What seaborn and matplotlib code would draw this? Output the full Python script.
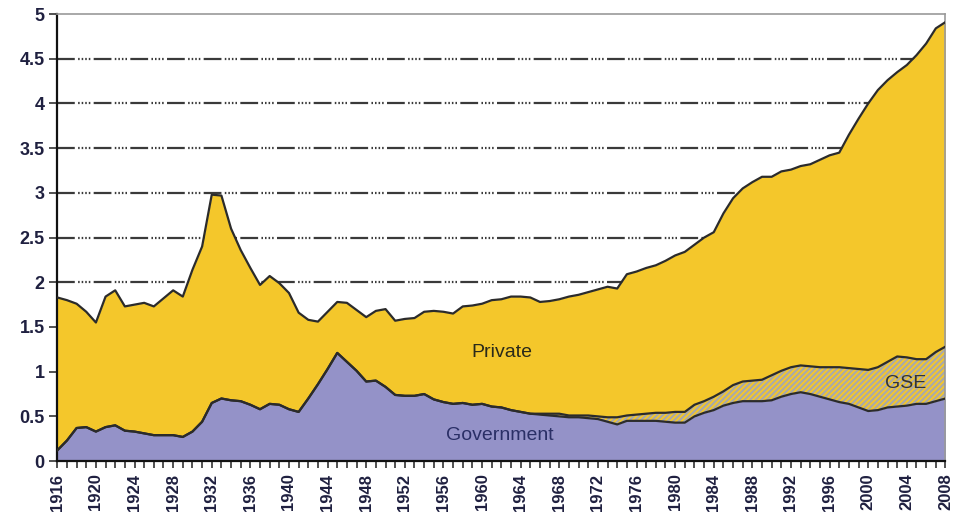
import numpy as np
import pandas as pd
import matplotlib
matplotlib.use("Agg")
import matplotlib.pyplot as plt
import seaborn as sns

# years on the x axis
years = list(range(1916, 2009))

# government share (bottom layer)
government = [0.12, 0.23, 0.37, 0.38, 0.33, 0.38, 0.40, 0.34, 0.33, 0.31,
              0.29, 0.29, 0.29, 0.27, 0.33, 0.44, 0.65, 0.70, 0.68, 0.67,
              0.63, 0.58, 0.64, 0.63, 0.58, 0.55, 0.70, 0.86, 1.03, 1.21,
              1.11, 1.01, 0.89, 0.90, 0.83, 0.74, 0.73, 0.73, 0.75, 0.69,
              0.66, 0.64, 0.65, 0.63, 0.64, 0.61, 0.60, 0.57, 0.55, 0.53,
              0.52, 0.51, 0.50, 0.49, 0.49, 0.48, 0.47, 0.44, 0.41, 0.45,
              0.45, 0.45, 0.45, 0.44, 0.43, 0.43, 0.50, 0.54, 0.57, 0.62,
              0.65, 0.67, 0.67, 0.67, 0.68, 0.72, 0.75, 0.77, 0.75, 0.72,
              0.69, 0.66, 0.64, 0.60, 0.56, 0.57, 0.60, 0.61, 0.62, 0.64,
              0.64, 0.67, 0.70]

# GSE layer (hatched, middle)
gse = [0.0] * 50 + [0.01, 0.02, 0.03, 0.02, 0.02, 0.03, 0.03, 0.05, 0.08, 0.06,
                    0.07, 0.08, 0.09, 0.10, 0.12, 0.12, 0.13, 0.13, 0.15, 0.16,
                    0.20, 0.22, 0.23, 0.24, 0.28, 0.29, 0.30, 0.30, 0.31, 0.33,
                    0.36, 0.39, 0.40, 0.43, 0.46, 0.48, 0.51, 0.56, 0.54, 0.50,
                    0.50, 0.55, 0.58]

# private layer (top)
private = [1.71, 1.57, 1.39, 1.29, 1.22, 1.46, 1.51, 1.39, 1.42, 1.46,
           1.44, 1.53, 1.62, 1.57, 1.81, 1.96, 2.33, 2.27, 1.92, 1.69,
           1.53, 1.39, 1.43, 1.36, 1.30, 1.11, 0.88, 0.70, 0.64, 0.57,
           0.66, 0.68, 0.72, 0.78, 0.87, 0.83, 0.86, 0.87, 0.92, 0.99,
           1.01, 1.01, 1.08, 1.11, 1.12, 1.19, 1.21, 1.27, 1.29, 1.30,
           1.25, 1.26, 1.28, 1.33, 1.35, 1.38, 1.42, 1.46, 1.44, 1.58,
           1.60, 1.63, 1.65, 1.70, 1.75, 1.79, 1.79, 1.83, 1.84, 1.99,
           2.09, 2.16, 2.22, 2.27, 2.22, 2.23, 2.21, 2.23, 2.26, 2.32,
           2.37, 2.40, 2.61, 2.80, 2.98, 3.10, 3.15, 3.18, 3.27, 3.40,
           3.53, 3.62, 3.63]

df = pd.DataFrame({"year": years, "Government": government,
                   "GSE": gse, "Private": private})

gold = "#F4C72B"
purple = "#9492C8"
edge = "#2b2b2b"

sns.set_theme(style="white")
plt.rcParams["font.family"] = ["Liberation Sans", "DejaVu Sans"]
plt.rcParams["hatch.linewidth"] = 1.5

fig, ax = plt.subplots(figsize=(9.55, 5.21), dpi=100)
fig.subplots_adjust(left=0.06, right=0.99, top=0.973, bottom=0.115)

polys = ax.stackplot(df["year"], df["Government"], df["GSE"], df["Private"],
                     colors=[purple, gold, gold], linewidth=0, zorder=2)
polys[1].set_hatch("//////")
polys[1].set_edgecolor("#A9A9A9")

# boundary lines between layers
bounds = pd.DataFrame({
    "year": years,
    "gov": df["Government"],
    "mid": df["Government"] + df["GSE"],
    "top": df["Government"] + df["GSE"] + df["Private"],
})
for col in ["gov", "mid", "top"]:
    sns.lineplot(data=bounds, x="year", y=col, ax=ax, color=edge,
                 linewidth=1.6, zorder=3)

# dashed grid
for v in np.arange(0.5, 5.0, 0.5):
    ax.axhline(v, color="#3a3a3a", linewidth=1.6, zorder=1,
               linestyle=(0, (8, 1.5, 0.7, 0.9, 0.7, 0.9, 0.7, 0.9, 0.7, 1.5)))

ax.set_xlim(1916, 2008)
ax.set_ylim(0, 5)
ax.set_xlabel("")
ax.set_ylabel("")

ax.set_yticks(np.arange(0, 5.01, 0.5))
ax.set_yticklabels(["0", "0.5", "1", "1.5", "2", "2.5", "3", "3.5", "4", "4.5", "5"])
ax.set_xticks(years[::4])
ax.set_xticks(years, minor=True)
ax.set_xticklabels([str(y) for y in years[::4]], rotation=90)

ax.tick_params(axis="y", direction="out", length=6, width=1.2, color="#333333",
               labelsize=13, labelcolor="#1f2040", pad=3, left=True)
ax.tick_params(axis="x", which="both", direction="out", length=5, width=1.2,
               color="#333333", bottom=True, labelsize=12, labelcolor="#1f2040", pad=4)
for lab in ax.get_xticklabels() + ax.get_yticklabels():
    lab.set_fontweight("bold")

for side in ["left", "bottom"]:
    ax.spines[side].set_color("#111111")
    ax.spines[side].set_linewidth(1.6)
for side in ["top", "right"]:
    ax.spines[side].set_color("#9a9a9a")
    ax.spines[side].set_linewidth(1.2)
    ax.spines[side].set_visible(True)

ax.text(1962.1, 1.22, "Private", fontsize=14, color="#2a2a1a",
        ha="center", va="center", zorder=4)
ax.text(1961.8, 0.29, "Government", fontsize=14, color="#2a2f66",
        ha="center", va="center", zorder=4)
ax.text(2003.9, 0.87, "GSE", fontsize=14, color="#333333",
        ha="center", va="center", zorder=4)

fig.savefig("out.png", dpi=100)
